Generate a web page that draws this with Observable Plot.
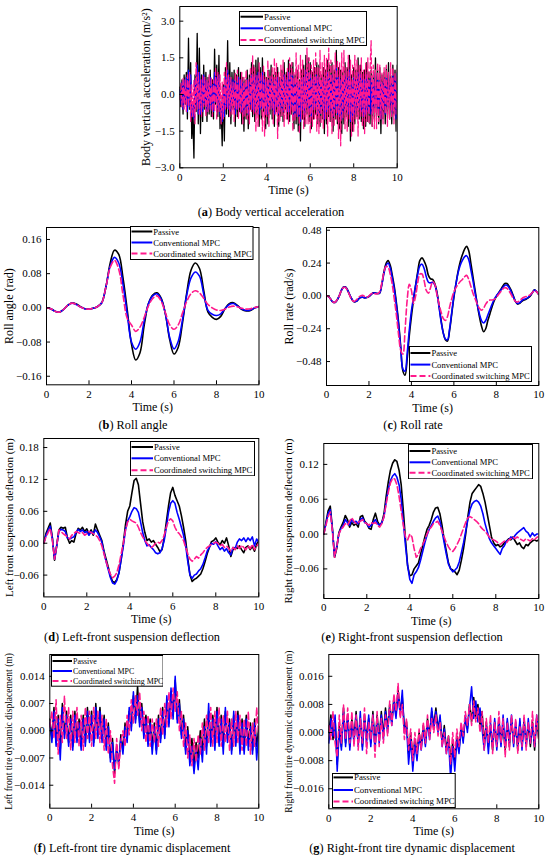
<!DOCTYPE html>
<html><head><meta charset="utf-8">
<script src="https://cdn.jsdelivr.net/npm/d3@7"></script>
<script src="https://cdn.jsdelivr.net/npm/@observablehq/plot@0.6"></script>
<style>
body{margin:0;background:#fff;}
#fig{position:relative;width:550px;height:858px;font-family:"Liberation Serif",serif;overflow:hidden;}
.panel{position:absolute;}
.legend{position:absolute;}
.cap{position:absolute;font-size:12.3px;white-space:nowrap;transform:translate(-50%,-50%);color:#000;}
</style></head><body><div id="fig"></div>
<script>
// ---------- data ----------
const t005 = [0,0.05,0.1,0.15,0.2,0.25,0.3,0.35,0.4,0.45,0.5,0.55,0.6,0.65,0.7,0.75,0.8,0.85,0.9,0.95,
1,1.05,1.1,1.15,1.2,1.25,1.3,1.35,1.4,1.45,1.5,1.55,1.6,1.65,1.7,1.75,1.8,1.85,1.9,1.95,
2,2.05,2.1,2.15,2.2,2.25,2.3,2.35,2.4,2.45,2.5,2.55,2.6,2.65,2.7,2.75,2.8,2.85,2.9,2.95,
3,3.05,3.1,3.15,3.2,3.25,3.3,3.35,3.4,3.45,3.5,3.55,3.6,3.65,3.7,3.75,3.8,3.85,3.9,3.95,
4,4.05,4.1,4.15,4.2,4.25,4.3,4.35,4.4,4.45,4.5,4.55,4.6,4.65,4.7,4.75,4.8,4.85,4.9,4.95,
5,5.05,5.1,5.15,5.2,5.25,5.3,5.35,5.4,5.45,5.5,5.55,5.6,5.65,5.7,5.75,5.8,5.85,5.9,5.95,
6,6.05,6.1,6.15,6.2,6.25,6.3,6.35,6.4,6.45,6.5,6.55,6.6,6.65,6.7,6.75,6.8,6.85,6.9,6.95,
7,7.05,7.1,7.15,7.2,7.25,7.3,7.35,7.4,7.45,7.5,7.55,7.6,7.65,7.7,7.75,7.8,7.85,7.9,7.95,
8,8.05,8.1,8.15,8.2,8.25,8.3,8.35,8.4,8.45,8.5,8.55,8.6,8.65,8.7,8.75,8.8,8.85,8.9,8.95,
9,9.05,9.1,9.15,9.2,9.25,9.3,9.35,9.4,9.45,9.5,9.55,9.6,9.65,9.7,9.75,9.8,9.85,9.9,9.95,
10];
const t01 = [0,0.1,0.2,0.3,0.4,0.5,0.6,0.7,0.8,0.9,1,1.1,1.2,1.3,1.4,1.5,1.6,1.7,1.8,1.9,2,2.1,2.2,2.3,2.4,2.5,2.6,2.7,2.8,2.9,3,3.1,3.2,3.3,3.4,3.5,3.6,3.7,3.8,3.9,4,4.1,4.2,4.3,4.4,4.5,4.6,4.7,4.8,4.9,5,5.1,5.2,5.3,5.4,5.5,5.6,5.7,5.8,5.9,6,6.1,6.2,6.3,6.4,6.5,6.6,6.7,6.8,6.9,7,7.1,7.2,7.3,7.4,7.5,7.6,7.7,7.8,7.9,8,8.1,8.2,8.3,8.4,8.5,8.6,8.7,8.8,8.9,9,9.1,9.2,9.3,9.4,9.5,9.6,9.7,9.8,9.9,10];
const t02 = [0,0.2,0.4,0.6,0.8,1,1.2,1.4,1.6,1.8,2,2.2,2.4,2.6,2.8,3,3.2,3.4,3.6,3.8,4,4.2,4.4,4.6,4.8,5,5.2,5.4,5.6,5.8,6,6.2,6.4,6.6,6.8,7,7.2,7.4,7.6,7.8,8,8.2,8.4,8.6,8.8,9,9.2,9.4,9.6,9.8,10];

const seriesNames = ["Passive","Conventional MPC","Coordinated switching MPC"];
const seriesColors = ["#000000","#0000ff","#ff1a8c"];
const xTicks = [0,2,4,6,8,10];

// (a) body vertical acceleration (t005)
const accPassive = [0.3,-0.5,0.6,-0.8,0.8,-0.4,0.9,-1.0,2.3,-0.6,1.3,-1.8,-0.9,-2.6,0.8,-0.7,2.5,-1.2,1.9,-1.6,
0.8,-1.1,1.2,-0.6,0.9,-1.1,0.7,-0.8,1.0,-0.9,0.6,-1.0,1.85,-0.4,1.2,-0.9,1.6,-1.4,-0.5,-2.1,
0.4,-1.9,1.1,-0.8,2.2,-0.9,1.3,-1.2,0.9,-0.6,1.0,-1.3,0.8,-0.9,1.1,-0.7,0.9,-1.2,0.7,-1.5,
0.6,-1.0,1.0,-1.4,0.8,-0.6,1.3,-0.9,1.2,-1.1,1.4,-0.8,1.5,-1.3,1.1,-1.0,1.5,-0.7,0.9,-1.4,
0.7,-1.2,1.0,-0.8,1.2,-1.0,0.8,-1.3,0.9,-0.7,1.1,-1.3,0.7,-0.9,1.0,-1.1,1.3,-0.6,0.9,-1.0,
1.4,-1.1,1.2,-0.8,1.3,-1.4,0.8,-1.2,1.0,-1.5,0.6,-1.9,1.0,-1.0,1.2,-1.3,1.6,-0.8,1.5,-1.1,
1.3,-1.4,0.9,-1.0,1.1,-0.8,1.3,-1.2,1.2,-1.3,0.8,-1.0,1.1,-1.6,1.0,-1.2,1.4,-0.9,1.2,-1.1,
1.3,-1.5,1.0,-1.0,1.8,-1.2,1.1,-1.4,1.0,-1.6,0.9,-1.2,1.3,-0.9,1.1,-1.3,1.6,-1.9,0.8,-1.5,
1.1,-1.2,1.0,-0.9,1.5,-1.0,1.2,-1.1,0.9,-1.4,1.0,-1.3,1.3,-1.1,0.9,-1.2,1.0,-1.3,0.8,-1.0,
1.5,-0.9,1.0,-1.2,1.1,-1.6,0.8,-1.0,0.9,-1.2,1.1,-0.9,1.3,-1.0,0.8,-1.2,1.2,-0.8,1.0,-1.5,
1.2];
const accConv = [0.2,-0.4,0.5,-0.6,0.6,-0.3,0.7,-0.7,1.0,-0.5,0.8,-0.9,-0.4,-1.0,0.6,-0.5,1.2,-0.8,0.9,-0.8,
0.6,-0.7,0.8,-0.4,0.6,-0.7,0.5,-0.6,0.7,-0.6,0.4,-0.7,0.9,-0.3,0.7,-0.6,0.8,-0.8,-0.3,-1.1,
0.3,-0.9,0.7,-0.5,1.0,-0.6,0.7,-0.7,0.6,-0.4,0.6,-0.8,0.5,-0.6,0.7,-0.5,0.6,-0.7,0.5,-0.8,
0.4,-0.6,0.6,-0.8,0.5,-0.4,0.8,-0.6,0.7,-0.7,0.8,-0.5,0.9,-0.8,0.7,-0.6,0.9,-0.5,0.6,-0.8,
0.5,-0.8,0.6,-0.5,0.7,-0.6,0.5,-0.8,0.6,-0.5,0.7,-0.8,0.5,-0.6,0.6,-0.7,0.8,-0.4,0.6,-0.7,
0.9,-0.7,0.8,-0.5,0.8,-0.9,0.5,-0.8,0.6,-0.9,0.4,-1.1,0.6,-0.6,0.7,-0.8,1.0,-0.5,0.9,-0.7,
0.8,-0.9,0.6,-0.6,0.7,-0.5,0.8,-0.8,0.7,-0.8,0.5,-0.6,0.7,-1.0,0.6,-0.7,0.9,-0.6,0.7,-0.7,
0.8,-0.9,0.6,-0.6,1.1,-0.8,0.7,-0.9,0.6,-1.0,0.6,-0.7,0.8,-0.6,0.7,-0.8,1.0,-1.1,0.5,-0.9,
0.7,-0.8,0.6,-0.6,0.9,-0.6,0.8,-0.7,0.6,-0.9,0.6,-0.8,0.8,-0.7,0.6,-0.8,0.7,-0.8,0.5,-0.6,
0.9,-0.6,0.6,-0.8,0.7,-1.0,0.5,-0.6,0.6,-0.8,0.7,-0.6,0.8,-0.6,0.5,-0.8,0.8,-0.5,0.7,-1.0,
0.9];
const accCoord = [-0.2,0.5,-0.5,0.7,-0.6,0.6,-0.7,0.8,-0.5,0.9,-1.1,0.4,-0.9,0.6,-1.2,1.3,-0.6,0.9,-0.8,0.6,
-0.9,0.8,-0.5,0.7,-0.9,0.6,-0.7,0.8,-0.6,0.7,-0.9,0.6,-0.7,1.1,-1.0,0.9,-0.7,0.8,-1.2,0.5,
-1.0,0.9,-0.6,1.3,-0.6,0.8,-0.9,0.7,-0.8,0.5,-1.1,0.9,-0.6,1.0,-1.0,0.6,-0.8,0.9,-1.2,0.7,
-0.9,1.0,-1.0,0.6,-1.2,1.1,-0.7,1.6,-0.8,1.1,-1.5,0.8,-1.3,1.3,-0.6,0.9,-1.5,1.2,-1.7,0.7,
-0.9,1.4,-1.3,0.8,-0.6,1.1,-1.2,1.5,-0.8,1.3,-1.8,0.9,-1.1,1.2,-0.9,1.4,-1.3,0.8,-1.0,1.1,
-1.2,1.5,-0.8,1.3,-1.5,0.9,-1.1,1.7,-0.9,1.2,-1.6,1.6,-1.0,1.4,-1.4,1.0,-1.2,1.9,-1.2,1.5,
-1.6,1.2,-1.3,1.4,-1.0,1.7,-1.5,1.1,-1.6,1.8,-1.2,1.3,-1.4,1.6,-1.0,1.5,-1.7,1.9,-1.1,1.4,
-1.6,1.2,-1.3,1.7,-1.0,1.4,-1.8,1.3,-2.1,1.7,-1.0,1.8,-1.4,1.1,-1.5,1.6,-1.0,1.4,-1.7,1.2,
-1.5,1.6,-1.0,1.4,-1.7,1.2,-0.9,1.5,-1.3,1.0,-1.6,1.3,-1.1,1.5,-1.2,1.0,2.2,-1.3,1.2,-1.4,
1.0,-1.4,1.3,-1.1,1.2,-1.0,0.9,-1.2,1.1,-0.8,1.2,-1.3,0.9,-1.0,1.3,-0.9,1.1,-1.2,0.9,-0.8,
1.0];
const accTicks = [-3.0,-1.5,0,1.5,3.0];

// (b) roll angle (t02)
const rollPassive = [0,-0.002,-0.008,-0.010,-0.004,0.006,0.012,0.009,0.003,-0.002,
-0.003,-0.001,0.003,0.012,0.050,0.105,0.135,0.125,0.070,-0.005,
-0.085,-0.122,-0.105,-0.040,0.010,0.030,0.035,0.022,-0.015,-0.075,
-0.108,-0.092,-0.035,0.035,0.088,0.105,0.092,0.040,-0.010,-0.022,
-0.027,-0.020,-0.002,0.010,0.012,0.005,-0.004,-0.007,-0.006,0.000,
0.003];
const rollConv = [0,-0.002,-0.008,-0.010,-0.004,0.006,0.011,0.008,0.002,-0.002,
-0.003,-0.001,0.003,0.012,0.050,0.098,0.118,0.105,0.055,-0.015,
-0.080,-0.097,-0.080,-0.030,0.010,0.028,0.033,0.020,-0.015,-0.070,
-0.096,-0.078,-0.028,0.030,0.070,0.084,0.074,0.032,-0.006,-0.015,
-0.018,-0.014,-0.002,0.008,0.010,0.004,-0.003,-0.006,-0.005,0.000,
0.003];
const rollCoord = [0,-0.002,-0.008,-0.010,-0.004,0.006,0.011,0.008,0.002,-0.002,
-0.003,-0.001,0.003,0.012,0.050,0.095,0.111,0.090,0.030,-0.025,
-0.040,-0.055,-0.045,-0.022,0.005,0.022,0.028,0.015,-0.012,-0.040,
-0.050,-0.040,-0.012,0.015,0.033,0.040,0.035,0.022,0.008,0.000,
-0.005,-0.006,-0.003,0.002,0.004,0.002,-0.001,-0.003,-0.002,0.001,
0.003];
const rollTicks = [-0.16,-0.08,0,0.08,0.16];

// (c) roll rate (t01)
const rrPassive = [0.000,-0.005,-0.025,-0.045,-0.048,-0.030,0.000,0.040,0.065,0.065,
0.040,0.005,-0.025,-0.043,-0.040,-0.025,-0.012,-0.010,-0.015,-0.012,
-0.005,0.010,0.022,0.020,0.018,0.020,0.080,0.170,0.235,0.258,
0.225,0.150,0.060,-0.060,-0.200,-0.380,-0.550,-0.580,-0.460,-0.290,
-0.150,-0.030,0.080,0.180,0.260,0.278,0.255,0.215,0.150,0.125,
0.120,0.090,0.030,-0.070,-0.180,-0.270,-0.320,-0.330,-0.250,-0.130,
-0.010,0.090,0.180,0.250,0.300,0.340,0.362,0.330,0.240,0.140,
0.040,-0.060,-0.150,-0.220,-0.262,-0.240,-0.180,-0.130,-0.080,-0.035,
-0.005,0.020,0.045,0.070,0.090,0.090,0.070,0.040,0.000,-0.040,
-0.060,-0.055,-0.040,-0.030,-0.025,-0.015,0.000,0.025,0.045,0.030,
0.010];
const rrConv = [0.000,-0.005,-0.025,-0.045,-0.048,-0.030,0.000,0.040,0.063,0.063,
0.040,0.005,-0.025,-0.042,-0.040,-0.025,-0.012,-0.010,-0.014,-0.011,
-0.004,0.010,0.021,0.020,0.018,0.020,0.078,0.160,0.220,0.240,
0.205,0.130,0.040,-0.080,-0.220,-0.390,-0.535,-0.550,-0.420,-0.250,
-0.110,-0.010,0.080,0.160,0.220,0.232,0.200,0.140,0.100,0.095,
0.100,0.080,0.020,-0.080,-0.190,-0.270,-0.315,-0.320,-0.240,-0.120,
0.000,0.090,0.170,0.225,0.260,0.285,0.294,0.265,0.190,0.110,
0.020,-0.060,-0.130,-0.180,-0.198,-0.180,-0.140,-0.100,-0.060,-0.025,
0.000,0.020,0.040,0.060,0.078,0.078,0.060,0.030,-0.005,-0.040,
-0.055,-0.050,-0.035,-0.025,-0.020,-0.010,0.005,0.025,0.042,0.030,
0.010];
const rrCoord = [0.000,-0.005,-0.025,-0.045,-0.046,-0.028,0.000,0.040,0.062,0.060,
0.035,0.000,-0.030,-0.040,-0.030,-0.012,0.000,0.005,-0.005,-0.010,
0.000,0.015,0.020,0.015,0.015,0.030,0.090,0.170,0.215,0.210,
0.160,0.080,-0.030,-0.150,-0.290,-0.400,-0.425,-0.250,-0.030,0.085,
0.040,-0.055,0.000,0.100,0.160,0.160,0.110,0.040,0.020,0.060,
0.105,0.085,0.010,-0.060,-0.120,-0.165,-0.180,-0.150,-0.080,-0.020,
0.030,0.060,0.085,0.105,0.120,0.140,0.150,0.120,0.070,0.020,
-0.020,-0.060,-0.090,-0.105,-0.090,-0.060,-0.040,-0.030,-0.030,-0.025,
-0.010,0.010,0.030,0.050,0.060,0.055,0.035,0.010,-0.020,-0.040,
-0.045,-0.035,-0.020,-0.010,-0.005,0.000,0.010,0.025,0.040,0.030,
0.010];
const rrTicks = [-0.48,-0.24,0,0.24,0.48];

// (d) left-front suspension deflection (t01)
const sdlPassive = [0.000,0.018,0.028,0.038,0.010,-0.032,-0.005,0.025,0.030,0.028,
0.030,0.010,0.000,0.005,0.002,0.018,0.028,0.025,0.030,0.022,
0.027,0.018,0.025,0.015,0.036,0.025,0.015,0.005,-0.015,-0.030,
-0.045,-0.062,-0.072,-0.074,-0.068,-0.055,-0.030,0.000,0.035,0.060,
0.070,0.095,0.118,0.122,0.110,0.075,0.040,0.020,0.005,0.008,
0.002,0.005,-0.002,-0.008,-0.016,-0.012,0.010,0.040,0.070,0.095,
0.105,0.090,0.080,0.070,0.052,0.030,0.005,-0.030,-0.060,-0.072,
-0.068,-0.066,-0.062,-0.058,-0.048,-0.035,-0.020,-0.008,0.003,0.005,
0.010,0.002,-0.003,0.005,0.000,0.010,-0.005,-0.025,-0.012,-0.008,
-0.010,-0.005,-0.012,-0.018,-0.008,-0.005,-0.012,-0.006,-0.015,-0.002,
0.005];
const sdlConv = [0.000,0.015,0.024,0.032,0.008,-0.030,-0.005,0.022,0.026,0.025,
0.022,0.010,0.008,0.010,0.012,0.020,0.026,0.022,0.025,0.020,
0.022,0.015,0.022,0.018,0.025,0.020,0.012,0.002,-0.018,-0.035,
-0.050,-0.065,-0.075,-0.077,-0.070,-0.055,-0.030,-0.005,0.025,0.042,
0.050,0.060,0.067,0.065,0.058,0.040,0.020,0.005,-0.005,-0.003,
-0.008,-0.012,-0.018,-0.020,-0.018,-0.010,0.005,0.030,0.058,0.075,
0.080,0.075,0.058,0.045,0.030,0.015,-0.005,-0.035,-0.060,-0.066,
-0.060,-0.058,-0.052,-0.048,-0.040,-0.028,-0.015,-0.008,0.000,-0.002,
0.003,-0.005,-0.012,-0.008,-0.015,-0.010,-0.018,-0.022,-0.008,-0.010,
0.002,0.008,0.005,0.010,0.003,0.010,0.005,0.012,-0.005,0.008,
0.002];
const sdlCoord = [0.000,0.012,0.020,0.028,0.005,-0.030,-0.005,0.025,0.022,0.018,
0.015,0.012,0.008,0.015,0.018,0.022,0.020,0.018,0.020,0.015,
0.018,0.022,0.020,0.018,0.015,0.012,0.005,-0.005,-0.020,-0.035,
-0.048,-0.058,-0.065,-0.062,-0.055,-0.040,-0.020,0.000,0.025,0.040,
0.045,0.042,0.040,0.038,0.030,0.020,0.012,0.005,0.000,-0.005,
-0.008,-0.005,0.000,0.002,0.000,0.005,0.015,0.030,0.042,0.046,
0.042,0.030,0.022,0.018,0.012,0.005,-0.008,-0.020,-0.030,-0.034,
-0.030,-0.025,-0.028,-0.022,-0.018,-0.012,-0.008,-0.005,-0.002,0.000,
0.002,0.000,-0.005,-0.002,-0.008,-0.005,-0.010,-0.015,-0.008,-0.012,
-0.005,-0.010,-0.004,-0.008,-0.012,-0.005,-0.010,-0.002,-0.012,-0.006,
0.000];
const sdlTicks = [-0.06,0,0.06,0.12,0.18];

// (e) right-front suspension deflection (t01)
const sdrPassive = [0.000,0.020,0.040,0.048,0.010,-0.040,-0.025,0.002,0.012,0.020,
0.032,0.025,0.012,0.020,0.015,0.018,0.012,0.030,0.032,0.022,
0.018,0.010,0.008,0.025,0.036,0.022,0.015,0.020,0.035,0.065,
0.090,0.110,0.122,0.128,0.125,0.110,0.085,0.040,-0.010,-0.055,
-0.072,-0.070,-0.060,-0.055,-0.050,-0.035,-0.020,-0.005,0.008,0.015,
0.025,0.038,0.045,0.046,0.035,0.015,-0.010,-0.030,-0.050,-0.060,
-0.062,-0.065,-0.070,-0.062,-0.045,-0.025,0.000,0.030,0.055,0.070,
0.075,0.080,0.085,0.082,0.070,0.055,0.035,0.015,-0.005,-0.015,
-0.020,-0.018,-0.022,-0.020,-0.015,-0.012,-0.008,-0.010,-0.005,-0.012,
-0.018,-0.015,-0.022,-0.025,-0.018,-0.020,-0.015,-0.012,-0.010,-0.012,
-0.010];
const sdrConv = [0.000,0.018,0.035,0.042,0.008,-0.038,-0.022,0.000,0.010,0.015,
0.025,0.020,0.015,0.025,0.020,0.022,0.018,0.025,0.028,0.020,
0.018,0.012,0.015,0.020,0.025,0.018,0.015,0.020,0.030,0.055,
0.078,0.092,0.100,0.104,0.098,0.085,0.060,0.020,-0.020,-0.055,
-0.078,-0.085,-0.070,-0.065,-0.058,-0.045,-0.030,-0.015,-0.002,0.008,
0.015,0.022,0.028,0.031,0.022,0.005,-0.015,-0.035,-0.052,-0.060,
-0.065,-0.062,-0.058,-0.048,-0.032,-0.015,0.005,0.025,0.042,0.052,
0.056,0.058,0.055,0.048,0.035,0.018,0.005,-0.008,-0.015,-0.020,
-0.025,-0.030,-0.035,-0.025,-0.020,-0.012,-0.010,-0.005,-0.008,-0.002,
0.002,0.005,0.008,0.011,0.005,0.002,-0.005,0.002,-0.003,0.000,
0.000];
const sdrCoord = [0.000,0.015,0.030,0.038,0.005,-0.040,-0.022,0.000,0.008,0.012,
0.018,0.015,0.022,0.028,0.022,0.018,0.020,0.022,0.025,0.020,
0.018,0.015,0.020,0.018,0.020,0.015,0.012,0.018,0.030,0.052,
0.072,0.088,0.096,0.095,0.085,0.065,0.040,0.015,-0.005,-0.010,
0.000,-0.005,-0.025,-0.040,-0.035,-0.025,-0.018,-0.010,0.000,0.008,
0.012,0.018,0.020,0.022,0.015,0.005,-0.005,-0.015,-0.022,-0.028,
-0.030,-0.025,-0.018,-0.010,0.000,0.010,0.020,0.028,0.030,0.028,
0.025,0.022,0.018,0.012,0.008,0.005,0.000,-0.005,-0.008,-0.010,
-0.012,-0.015,-0.018,-0.015,-0.012,-0.015,-0.010,-0.008,-0.005,-0.008,
-0.005,-0.008,-0.010,-0.012,-0.008,-0.010,-0.012,-0.008,-0.010,-0.006,
-0.004];
const sdrTicks = [-0.06,0,0.06,0.12];

// (f) left-front tire dynamic displacement (t01)
const tlPassive = [0.003,-0.002,0.006,-0.003,0.004,-0.005,0.007,-0.001,0.005,-0.003,
0.004,-0.004,0.005,-0.002,0.003,-0.004,0.004,-0.003,0.006,-0.002,
0.005,-0.003,0.007,-0.001,0.006,-0.002,0.004,-0.004,0.002,-0.007,
-0.002,-0.011,-0.004,-0.009,-0.001,-0.005,0.002,-0.002,0.005,0.001,
0.009,0.003,0.0115,0.002,0.007,-0.001,0.004,-0.003,0.003,-0.004,
0.002,-0.005,0.004,-0.002,0.006,-0.001,0.008,0.002,0.010,0.004,
0.013,0.003,0.008,-0.001,0.004,-0.005,0.001,-0.008,-0.002,-0.009,
-0.003,-0.007,0.000,-0.005,0.003,-0.004,0.005,-0.003,0.004,-0.002,
0.006,-0.003,0.004,-0.004,0.005,-0.002,0.003,-0.005,0.004,-0.003,
0.005,-0.004,0.003,-0.005,0.004,-0.003,0.002,-0.005,0.003,-0.004,
0.001];
const tlConv = [0.002,-0.003,0.005,-0.004,0.003,-0.0075,0.006,-0.002,0.004,-0.004,
0.003,-0.005,0.004,-0.003,0.002,-0.005,0.003,-0.004,0.005,-0.003,
0.004,-0.004,0.006,-0.002,0.005,-0.003,0.003,-0.005,0.001,-0.008,
-0.003,-0.010,-0.005,-0.008,-0.002,-0.006,0.001,-0.003,0.006,0.000,
0.010,0.002,0.009,0.001,0.006,-0.002,0.003,-0.004,0.002,-0.006,
0.001,-0.006,0.003,-0.003,0.005,-0.002,0.009,0.001,0.011,0.003,
0.014,0.002,0.007,-0.002,0.003,-0.006,0.000,-0.009,-0.004,-0.011,
-0.005,-0.010,-0.002,-0.008,0.001,-0.006,0.007,-0.004,0.003,-0.005,
0.005,-0.004,0.003,-0.006,0.006,-0.003,0.002,-0.006,0.005,-0.004,
0.004,-0.006,0.002,-0.006,0.003,-0.005,0.001,-0.006,0.002,-0.0075,
0.000];
const tlCoord = [0.001,0.005,-0.002,0.008,-0.006,0.004,-0.003,0.009,-0.002,0.006,
-0.005,0.005,-0.003,0.006,-0.004,0.004,-0.005,0.006,-0.002,0.005,
-0.004,0.006,-0.002,0.005,-0.003,0.004,-0.005,0.003,-0.006,0.000,
-0.009,-0.0135,-0.002,-0.010,-0.003,0.000,-0.004,0.004,-0.001,0.008,
0.002,0.009,0.004,0.010,0.000,0.005,-0.003,0.004,-0.004,0.003,
-0.003,0.003,-0.004,0.006,-0.001,0.007,0.001,0.010,0.003,0.011,
0.005,0.010,0.000,0.005,-0.004,0.002,-0.007,-0.001,-0.009,-0.002,
-0.008,-0.001,-0.006,0.002,-0.005,0.004,-0.003,0.006,-0.004,0.005,
-0.003,0.006,-0.004,0.004,-0.003,0.005,-0.005,0.003,-0.004,0.005,
-0.003,0.004,-0.005,0.003,-0.004,0.005,-0.006,0.002,-0.004,0.006,
-0.002];
const tlTicks = [-0.014,-0.007,0,0.007,0.014];

// (g) right-front tire dynamic displacement (t01)
const trPassive = [0.000,0.005,-0.002,0.004,-0.009,0.002,-0.004,0.007,-0.003,0.005,
-0.004,0.004,-0.002,0.006,-0.003,0.004,-0.004,0.005,-0.002,0.004,
-0.003,0.006,-0.004,0.005,-0.002,0.006,-0.001,0.007,0.001,0.008,
0.003,0.010,0.005,0.012,0.006,0.010,0.001,0.003,-0.006,0.000,
-0.007,-0.002,-0.006,0.000,-0.004,0.002,-0.003,0.004,-0.001,0.006,
0.002,0.007,0.001,0.004,-0.003,0.002,-0.005,-0.001,-0.007,-0.003,
-0.008,-0.001,-0.005,0.002,-0.002,0.004,0.001,0.008,0.003,0.010,
0.004,0.008,0.002,0.006,-0.003,0.003,-0.004,0.002,-0.005,0.003,
-0.004,0.004,-0.003,0.002,-0.005,0.003,-0.004,0.004,-0.003,0.002,
-0.005,0.003,-0.004,0.004,-0.003,0.002,-0.004,0.003,-0.005,0.004,
-0.002];
const trConv = [-0.003,0.004,-0.001,0.005,-0.011,0.001,-0.005,0.006,-0.004,0.005,
-0.005,0.003,-0.003,0.005,-0.004,0.006,-0.005,0.004,-0.003,0.005,
-0.004,0.005,-0.005,0.004,-0.003,0.005,-0.002,0.006,0.000,0.007,
0.002,0.009,0.004,0.011,0.005,0.012,0.000,0.002,-0.009,-0.002,
-0.011,-0.003,-0.008,-0.001,-0.005,0.001,-0.004,0.003,-0.002,0.007,
0.001,0.006,0.000,0.005,-0.004,0.001,-0.006,-0.002,-0.013,-0.004,
-0.011,-0.002,-0.006,0.001,-0.003,0.005,0.000,0.007,0.013,0.004,
0.009,0.003,0.007,0.001,-0.005,0.002,-0.006,0.003,-0.004,0.004,
-0.005,0.003,-0.004,0.005,-0.004,0.004,-0.003,0.005,-0.004,0.003,
-0.004,0.004,-0.005,0.003,-0.004,0.004,-0.003,0.002,-0.004,0.005,
-0.001];
const trCoord = [0.002,-0.002,0.006,-0.003,-0.007,0.005,-0.003,0.008,-0.002,0.007,
-0.003,0.006,-0.004,0.005,-0.005,0.004,-0.003,0.007,-0.006,0.003,
-0.002,0.005,-0.007,0.006,-0.004,0.004,-0.003,0.005,-0.001,0.009,
0.002,0.011,0.006,0.014,0.004,0.008,-0.002,0.004,-0.005,0.001,
-0.008,0.000,-0.006,0.001,-0.005,0.003,-0.003,0.005,-0.002,0.004,
0.000,0.005,-0.001,0.003,-0.004,0.000,-0.006,-0.001,-0.009,0.000,
-0.007,0.001,-0.004,0.003,-0.001,0.006,0.002,0.008,0.002,0.009,
0.003,0.007,0.000,0.006,-0.005,0.004,-0.003,0.005,-0.006,0.003,
-0.004,0.006,-0.003,0.004,-0.007,0.003,-0.005,0.005,-0.003,0.004,
-0.006,0.002,-0.004,0.005,-0.005,0.003,-0.003,0.006,-0.004,0.005,
-0.003];
const trTicks = [-0.016,-0.008,0,0.008,0.016];

// ---------- layout ----------
const FONT = "Liberation Serif, Times New Roman, serif";
const panels = [
 {sx:130, w:290, frame:[179.3,396.7,6,167.3], yDomain:[-3.0,3.6], yTicks:accTicks, fmt:".1f",
  yLabel:"Body vertical acceleration (m/s²)", yLabelSize:12, yLabelLeft:141, t:t005,
  series:[accPassive,accConv,accCoord], curve:"linear", sw:1.3,
  legend:{box:[239,367,11,46], rows:[16.7,28.3,40], textX:264, fs:8.8}},
 {sx:0, w:275, frame:[46,258.5,227,384.3], yDomain:[-0.18,0.188], yTicks:rollTicks, fmt:".2f",
  yLabel:"Roll angle (rad)", yLabelSize:12, yLabelLeft:3.8, t:t02,
  series:[rollPassive,rollConv,rollCoord], curve:"catmull-rom", sw:1.6,
  legend:{box:[130,253.5,226,260], rows:[231.5,242.5,253.5], textX:153.3, fs:8.6}},
 {sx:275, w:275, frame:[326,538.3,227,385], yDomain:[-0.655,0.50], yTicks:rrTicks, fmt:".2f",
  yLabel:"Roll rate (rad/s)", yLabelSize:12, yLabelLeft:283.5, t:t01,
  series:[rrPassive,rrConv,rrCoord], curve:"catmull-rom", sw:1.6,
  legend:{box:[409.3,532.3,345.7,381.7], rows:[352.7,364.3,375.7], textX:431.7, fs:8.6}},
 {sx:0, w:275, frame:[43.3,258.3,438.3,596.7], yDomain:[-0.101,0.197], yTicks:sdlTicks, fmt:".2f",
  yLabel:"Left front suspension deflection (m)", yLabelSize:11, yLabelLeft:4.3, t:t01,
  series:[sdlPassive,sdlConv,sdlCoord], curve:"linear", sw:1.6,
  legend:{box:[130,255,440.7,476], rows:[446.7,458,470], textX:154, fs:8.6}},
 {sx:275, w:275, frame:[323.3,538.3,443.3,598.3], yDomain:[-0.111,0.156], yTicks:sdrTicks, fmt:".2f",
  yLabel:"Right front suspension deflection (m)", yLabelSize:11, yLabelLeft:284, t:t01,
  series:[sdrPassive,sdrConv,sdrCoord], curve:"linear", sw:1.6,
  legend:{box:[408.3,533.3,444,479.3], rows:[451,462.3,472.7], textX:431.7, fs:8.6}},
 {sx:0, w:275, frame:[49.3,258.3,654,807.7], yDomain:[-0.0199,0.0196], yTicks:tlTicks, fmt:".3f",
  yLabel:"Left front tire dynamic displacement (m)", yLabelSize:9.6, yLabelLeft:4.8, t:t01,
  series:[tlPassive,tlConv,tlCoord], curve:"linear", sw:1.5,
  legend:{box:[50.7,163.3,655,686.7], rows:[661,671,681], textX:72.7, fs:7.9}},
 {sx:275, w:275, frame:[328.3,538.3,654,808.3], yDomain:[-0.0217,0.0222], yTicks:trTicks, fmt:".3f",
  yLabel:"Right front tire dynamic displacement (m)", yLabelSize:9.6, yLabelLeft:284.5, t:t01,
  series:[trPassive,trConv,trCoord], curve:"linear", sw:1.5,
  legend:{box:[332.3,456,773.3,808.3], rows:[777.7,790.3,801.7], textX:354.3, fs:8.8}}
];

const captions = [
 {letter:"a", text:"Body vertical acceleration", x:271, y:212.3},
 {letter:"b", text:"Roll angle", x:133, y:425},
 {letter:"c", text:"Roll rate", x:413, y:425},
 {letter:"d", text:"Left-front suspension deflection", x:132, y:636.7},
 {letter:"e", text:"Right-front suspension deflection", x:412, y:636.7},
 {letter:"f", text:"Left-front tire dynamic displacement", x:132, y:848.3},
 {letter:"g", text:"Right-front tire dynamic displacement", x:412, y:848.3}
];

const fig = document.getElementById("fig");

panels.forEach(p => {
  const [x0,x1,y0,y1] = p.frame;
  const sy = Math.max(0, y0 - 8);
  const h = (y1 + 34) - sy;
  const mL = x0 - p.sx, mR = p.sx + p.w - x1, mT = y0 - sy, mB = sy + h - y1;
  const lines = p.series.map((vals, k) => Plot.line(
    p.t.map((tt, i) => ({t: tt, v: vals[i]})),
    {x: "t", y: "v", stroke: seriesColors[k], strokeWidth: p.sw,
     strokeDasharray: k === 2 ? "6,3" : null, curve: p.curve, clip: true}
  ));
  const chart = Plot.plot({
    width: p.w, height: h,
    marginLeft: mL, marginRight: mR, marginTop: mT, marginBottom: mB,
    style: {fontFamily: FONT, fontSize: "11px", color: "#000", background: "transparent", overflow: "visible"},
    x: {domain: [0, 10]},
    y: {domain: p.yDomain},
    marks: [
      ...lines,
      Plot.frame({stroke: "#000", strokeWidth: 1}),
      Plot.axisX({ticks: xTicks, tickSize: -4, tickPadding: 9, label: null, tickFormat: d3.format("d"), fontFamily: FONT}),
      Plot.axisY({ticks: p.yTicks, tickSize: -4, tickPadding: 9, label: null, tickFormat: d3.format(p.fmt), fontFamily: FONT}),
      Plot.text(["Time (s)"], {frameAnchor: "bottom", textAnchor: "middle", lineAnchor: "top", dy: 18, fontSize: 12, fontFamily: FONT}),
      Plot.text([p.yLabel], {frameAnchor: "left", textAnchor: "middle", rotate: -90, lineAnchor: "top", dx: -(x0 - p.yLabelLeft), fontSize: p.yLabelSize, fontFamily: FONT})
    ]
  });
  const wrap = document.createElement("div");
  wrap.className = "panel";
  wrap.style.left = p.sx + "px";
  wrap.style.top = sy + "px";
  wrap.appendChild(chart);
  fig.appendChild(wrap);

  // legend
  const L = p.legend;
  const [bx0, bx1, by0, by1] = L.box;
  const lw = bx1 - bx0, lh = by1 - by0;
  const div = document.createElement("div");
  div.className = "legend";
  div.style.left = bx0 + "px";
  div.style.top = by0 + "px";
  fig.appendChild(div);
  const svg = d3.select(div).append("svg").attr("width", lw).attr("height", lh).style("display","block");
  svg.append("rect").attr("x", 0.5).attr("y", 0.5).attr("width", lw - 1).attr("height", lh - 1)
     .attr("fill", "#fff").attr("stroke", "#000").attr("stroke-width", 1);
  seriesNames.forEach((name, k) => {
    const yy = L.rows[k] - by0;
    svg.append("line").attr("x1", 1.5).attr("x2", L.textX - bx0 - 1).attr("y1", yy).attr("y2", yy)
       .attr("stroke", seriesColors[k]).attr("stroke-width", 2)
       .attr("stroke-dasharray", k === 2 ? "6,3" : null);
    svg.append("text").attr("x", L.textX - bx0).attr("y", yy).attr("dy", "0.35em")
       .style("font-family", FONT).attr("font-size", L.fs).attr("fill", "#000")
       .text(name);
  });
});

captions.forEach(c => {
  const d = document.createElement("div");
  d.className = "cap";
  d.style.left = c.x + "px";
  d.style.top = c.y + "px";
  d.innerHTML = "(<b>" + c.letter + "</b>) " + c.text;
  fig.appendChild(d);
});
</script>
</body></html>
